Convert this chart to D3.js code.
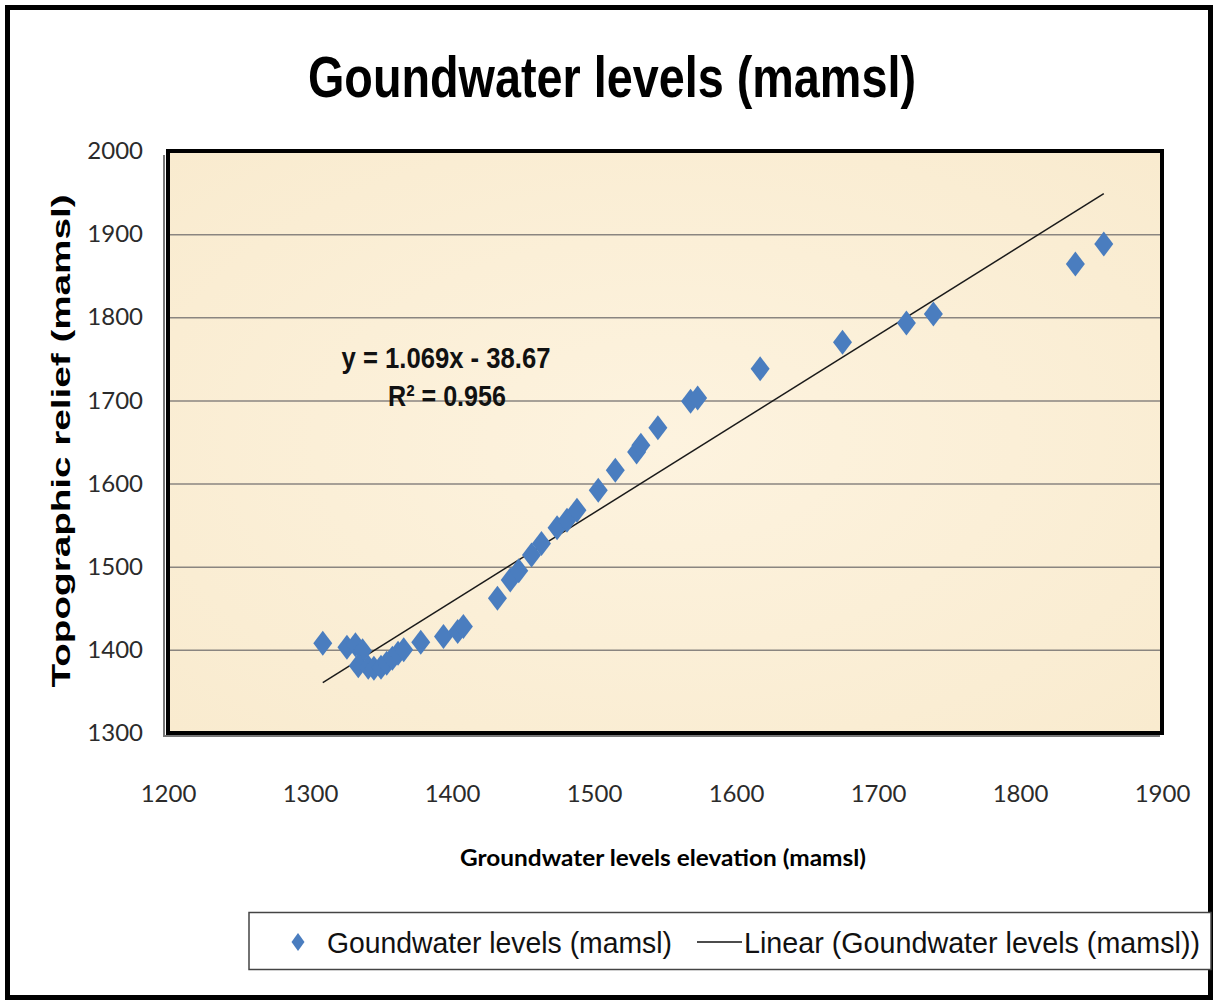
<!DOCTYPE html>
<html>
<head>
<meta charset="utf-8">
<script src="https://cdn.jsdelivr.net/npm/d3@7"></script>
<style>
  body { margin: 0; background: #fff; }
  .tick text { font-family: Lato, "Open Sans", sans-serif; font-size: 24px; fill: #2b2b2b; }
</style>
</head>
<body>
<div id="chart"></div>
<script>
"use strict";

// groundwater levels (x) vs topographic relief (y)
var gwLevel = [1309, 1326, 1332, 1337, 1334, 1341, 1345, 1350, 1354, 1358, 1362, 1366,
               1378, 1394, 1404, 1408, 1432, 1441, 1447, 1456, 1463, 1474, 1481, 1488,
               1503, 1515, 1530, 1533, 1545, 1568, 1573, 1617, 1675, 1720, 1739, 1839, 1859];
var topoRelief = [1408, 1403, 1406, 1399, 1381, 1379, 1378, 1379, 1384, 1390, 1396, 1400,
                  1409, 1416, 1422, 1428, 1462, 1484, 1495, 1514, 1528, 1547, 1556, 1568,
                  1592, 1616, 1638, 1646, 1667, 1699, 1703, 1738, 1770, 1793, 1804, 1864, 1888];

var xTicks = [1200, 1300, 1400, 1500, 1600, 1700, 1800, 1900];
var yTicks = [1300, 1400, 1500, 1600, 1700, 1800, 1900, 2000];
var gridValues = [1400, 1500, 1600, 1700, 1800, 1900];

// trendline from Excel
var trendSlope = 1.069;
var trendIntercept = -38.67;
var trendR2 = 0.956;

var seriesName = "Goundwater levels (mamsl)";

var W = 1215, H = 1004;
var pL = 168, pR = 1162, pT = 151, pB = 733;
var blue = "#4a7dbf";

var svg = d3.select("#chart").append("svg")
    .attr("width", W)
    .attr("height", H);

// outer chart border
svg.append("rect")
    .attr("x", 7.5).attr("y", 7.5)
    .attr("width", 1203).attr("height", 990)
    .attr("fill", "#fff")
    .attr("stroke", "#000")
    .attr("stroke-width", 5);

var x = d3.scaleLinear().domain([1200, 1900]).range([pL, pR]);
var y = d3.scaleLinear().domain([1300, 2000]).range([pB, pT]);

// parchment-ish plot background
var defs = svg.append("defs");
var grad = defs.append("radialGradient").attr("id", "paper")
    .attr("cx", "50%").attr("cy", "50%").attr("r", "70%");
grad.append("stop").attr("offset", "0%").attr("stop-color", "#fdf3df");
grad.append("stop").attr("offset", "100%").attr("stop-color", "#f9ebcf");

svg.append("rect")
    .attr("x", pL).attr("y", pT)
    .attr("width", pR - pL).attr("height", pB - pT)
    .attr("fill", "url(#paper)");

// gridlines
svg.append("g")
    .attr("transform", "translate(" + pL + ",0)")
    .call(d3.axisLeft(y).tickValues(gridValues).tickSize(-(pR - pL)).tickFormat(""))
    .call(function(g) { g.select(".domain").remove(); })
    .selectAll("line")
    .attr("stroke", "#8a8580")
    .attr("stroke-width", 1.5);

// y axis labels
svg.append("g")
    .attr("transform", "translate(" + pL + ",0)")
    .call(d3.axisLeft(y).tickValues(yTicks).tickSize(0).tickPadding(25).tickFormat(d3.format("d")))
    .call(function(g) { g.select(".domain").remove(); });

// x axis labels
svg.append("g")
    .attr("transform", "translate(0," + pB + ")")
    .call(d3.axisBottom(x).tickValues(xTicks).tickSize(0).tickPadding(52).tickFormat(d3.format("d")))
    .call(function(g) { g.select(".domain").remove(); });

// trendline over the range of the data
var xExt = d3.extent(gwLevel);
var trend = xExt.map(function(v) { return [v, trendSlope * v + trendIntercept]; });
svg.append("path")
    .datum(trend)
    .attr("fill", "none")
    .attr("stroke", "#1a1a1a")
    .attr("stroke-width", 1.5)
    .attr("d", d3.line().x(function(d) { return x(d[0]); }).y(function(d) { return y(d[1]); }));

// diamonds
var diamond = "M0,-12.5L9.5,0L0,12.5L-9.5,0Z";
svg.append("g").selectAll("path")
    .data(gwLevel)
    .enter().append("path")
    .attr("d", diamond)
    .attr("fill", blue)
    .attr("transform", function(d, i) { return "translate(" + x(d) + "," + y(topoRelief[i]) + ")"; });

// plot frame (thick, with grey shadow at left/bottom)
svg.append("path")
    .attr("d", "M" + (pL - 4) + "," + (pT + 4) + "V" + (pB + 3) + "H" + (pR - 2))
    .attr("fill", "none").attr("stroke", "#777").attr("stroke-width", 2);
svg.append("rect")
    .attr("x", pL).attr("y", pT)
    .attr("width", pR - pL).attr("height", pB - pT)
    .attr("fill", "none")
    .attr("stroke", "#000")
    .attr("stroke-width", 4);

// equation
svg.append("text")
    .attr("x", 446).attr("y", 368)
    .attr("text-anchor", "middle")
    .attr("font-family", "'Liberation Sans Narrow', 'Liberation Sans', Arial, sans-serif")
    .attr("font-weight", "bold").attr("font-size", 30)
    .attr("textLength", 209).attr("lengthAdjust", "spacingAndGlyphs")
    .attr("fill", "#111")
    .text("y = " + trendSlope + "x - " + Math.abs(trendIntercept));
svg.append("text")
    .attr("x", 447).attr("y", 406)
    .attr("text-anchor", "middle")
    .attr("font-family", "'Liberation Sans Narrow', 'Liberation Sans', Arial, sans-serif")
    .attr("font-weight", "bold").attr("font-size", 30)
    .attr("textLength", 118).attr("lengthAdjust", "spacingAndGlyphs")
    .attr("fill", "#111")
    .text("R\u00b2 = " + trendR2);

// title
svg.append("text")
    .attr("x", 612).attr("y", 97)
    .attr("text-anchor", "middle")
    .attr("font-family", "'Liberation Sans', Arial, sans-serif")
    .attr("font-weight", "bold").attr("font-size", 57)
    .attr("textLength", 608).attr("lengthAdjust", "spacingAndGlyphs")
    .attr("fill", "#000")
    .text(seriesName);

// axis titles
svg.append("text")
    .attr("transform", "translate(70," + 441 + ") rotate(-90)")
    .attr("text-anchor", "middle")
    .attr("font-family", "'Liberation Sans', Arial, sans-serif")
    .attr("font-weight", "bold").attr("font-size", 26)
    .attr("textLength", 493).attr("lengthAdjust", "spacingAndGlyphs")
    .attr("fill", "#000")
    .text("Topographic relief (mamsl)");

svg.append("text")
    .attr("x", 663).attr("y", 866)
    .attr("text-anchor", "middle")
    .attr("font-family", "Lato, 'Open Sans', sans-serif")
    .attr("font-weight", "bold").attr("font-size", 23)
    .attr("textLength", 406).attr("lengthAdjust", "spacingAndGlyphs")
    .attr("fill", "#000")
    .text("Groundwater levels elevation (mamsl)");

// legend
var legend = svg.append("g");
legend.append("rect")
    .attr("x", 249).attr("y", 912.5)
    .attr("width", 962).attr("height", 57)
    .attr("fill", "#fff")
    .attr("stroke", "#444")
    .attr("stroke-width", 1.5);
legend.append("path")
    .attr("d", "M0,-9L6.5,0L0,9L-6.5,0Z")
    .attr("fill", blue)
    .attr("transform", "translate(298,942)");
legend.append("text")
    .attr("x", 327).attr("y", 953)
    .attr("font-family", "'Liberation Sans Narrow', 'Liberation Sans', Arial, sans-serif")
    .attr("font-size", 29)
    .attr("textLength", 345).attr("lengthAdjust", "spacingAndGlyphs")
    .attr("fill", "#111")
    .text(seriesName);
legend.append("line")
    .attr("x1", 697).attr("x2", 742)
    .attr("y1", 942).attr("y2", 942)
    .attr("stroke", "#111").attr("stroke-width", 1.5);
legend.append("text")
    .attr("x", 744).attr("y", 953)
    .attr("font-family", "'Liberation Sans Narrow', 'Liberation Sans', Arial, sans-serif")
    .attr("font-size", 29)
    .attr("textLength", 456).attr("lengthAdjust", "spacingAndGlyphs")
    .attr("fill", "#111")
    .text("Linear (" + seriesName + ")");
</script>
</body>
</html>
